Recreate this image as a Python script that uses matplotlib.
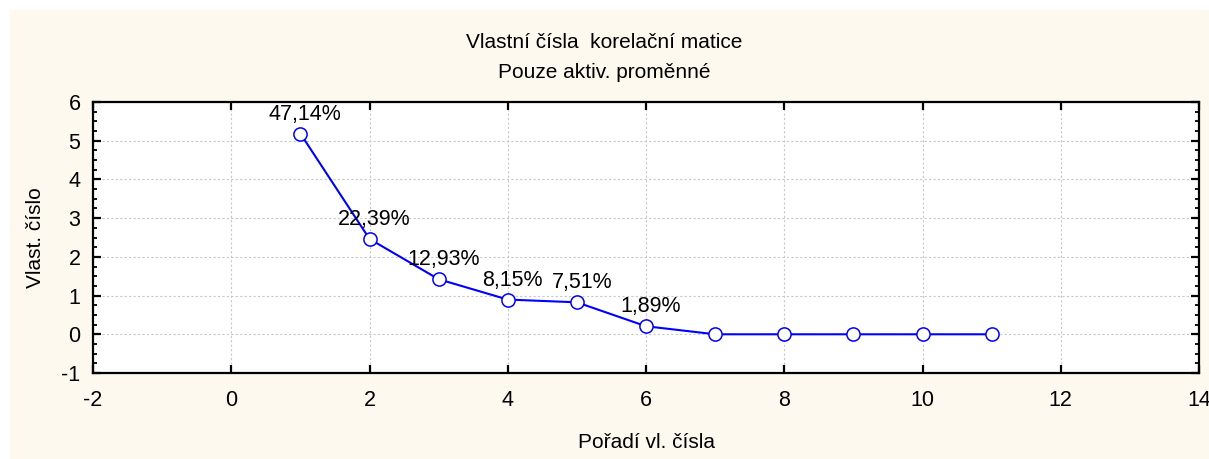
import matplotlib
matplotlib.use("Agg")
import matplotlib.pyplot as plt
from matplotlib.patches import Rectangle
from matplotlib.ticker import MultipleLocator

plt.rcParams['font.family'] = ['Liberation Sans', 'DejaVu Sans']
plt.rcParams['axes.unicode_minus'] = False

# Eigenvalues of the correlation matrix (11 active variables)
order = [1, 2, 3, 4, 5, 6, 7, 8, 9, 10, 11]
pct = [47.14, 22.39, 12.93, 8.15, 7.51, 1.89, 0.0, 0.0, 0.0, 0.0, 0.0]
n_vars = 11
eigvals = [p * n_vars / 100 for p in pct]

title = "Vlastní čísla  korelační matice"
subtitle = "Pouze aktiv. proměnné"
xlabel = "Pořadí vl. čísla"
ylabel = "Vlast. číslo"

W, H = 1209, 459
fig = plt.figure(figsize=(W / 100, H / 100), dpi=100, facecolor='white')

# cream panel behind the chart
fig.patches.append(Rectangle((10 / W, 0), 1, 449 / H, transform=fig.transFigure,
                             facecolor='#FDF9EE', edgecolor='none', zorder=-10))

ax = fig.add_axes([93 / W, (H - 373) / H, 1106 / W, 271 / H])
ax.set_facecolor('white')

ax.plot(order, eigvals, color='#0000FF', lw=1.5, marker='o', ms=9.5,
        mfc='white', mec='#0000FF', mew=1.1, zorder=3, clip_on=False)

for x, y, p in zip(order, eigvals, pct):
    if p > 0:
        ax.annotate(f"{p:.2f}".replace('.', ',') + '%', (x, y),
                    xytext=(3.5, 14), textcoords='offset points',
                    ha='center', va='center', fontsize=15.5, zorder=4)

ax.set_xlim(-2, 14)
ax.set_ylim(-1, 6)
ax.xaxis.set_major_locator(MultipleLocator(2))
ax.yaxis.set_major_locator(MultipleLocator(1))
ax.yaxis.set_minor_locator(MultipleLocator(0.25))

ax.grid(True, which='major', color='#C8C8C8', linestyle=(0, (2, 2)), lw=0.8)
ax.set_axisbelow(True)

for s in ax.spines.values():
    s.set_linewidth(1.6)
    s.set_color('black')

ax.tick_params(which='both', direction='in', top=True, right=True,
               colors='black', labelsize=15.5)
ax.tick_params(which='major', length=6, width=1.6)
ax.tick_params(which='minor', length=3, width=1.3)
ax.tick_params(axis='x', which='major', pad=12)
ax.tick_params(axis='y', which='major', pad=9)

ax.set_xlabel(xlabel, fontsize=15, labelpad=16)
ax.set_ylabel(ylabel, fontsize=15, labelpad=12)

fig.text(0.5, 1 - 43 / H, title, ha='center', va='center', fontsize=15)
fig.text(0.5, 1 - 73 / H, subtitle, ha='center', va='center', fontsize=15)

fig.savefig('out.png', dpi=100, facecolor='white')
